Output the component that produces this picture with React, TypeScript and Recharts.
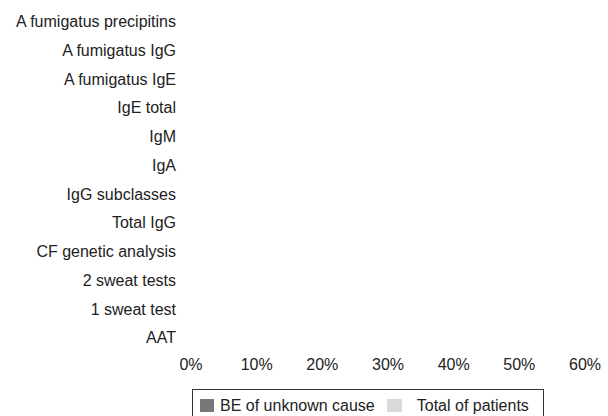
import { Bar, BarChart, Legend, XAxis, YAxis } from "recharts";

const tests = [
  "A fumigatus precipitins",
  "A fumigatus IgG",
  "A fumigatus IgE",
  "IgE total",
  "IgM",
  "IgA",
  "IgG subclasses",
  "Total IgG",
  "CF genetic analysis",
  "2 sweat tests",
  "1 sweat test",
  "AAT",
];

// no bars are visible in the picture, so every share reads as 0
const unknownCause = [0, 0, 0, 0, 0, 0, 0, 0, 0, 0, 0, 0];
const totalPatients = [0, 0, 0, 0, 0, 0, 0, 0, 0, 0, 0, 0];

const xTicks = [0, 0.1, 0.2, 0.3, 0.4, 0.5, 0.6];

const data = tests.map((name, i) => ({
  name,
  unknown: unknownCause[i],
  total: totalPatients[i],
}));

const FONT = "'Liberation Sans', Arial, sans-serif";

function LegendBox() {
  return (
    <div
      style={{
        border: "1px solid #333",
        height: 30,
        boxSizing: "border-box",
        display: "flex",
        alignItems: "center",
        fontFamily: FONT,
        fontSize: 16,
        color: "#222",
        paddingLeft: 7,
        paddingTop: 3,
      }}
    >
      <span style={{ width: 14, height: 13, background: "#78787a", display: "inline-block", marginRight: 6 }} />
      <span>BE of unknown cause</span>
      <span style={{ width: 15, height: 13, background: "#dadadc", display: "inline-block", marginLeft: 12, marginRight: 15 }} />
      <span>Total of patients</span>
    </div>
  );
}

export default function App() {
  return (
    <div style={{ position: "fixed", left: 0, top: 0, width: 608, height: 416, overflow: "hidden", background: "#fff" }}>
      <BarChart
        width={608}
        height={416}
        data={data}
        layout="vertical"
        margin={{ top: 7, right: 23, bottom: 4, left: 0 }}
        barGap={0}
      >
        <XAxis
          type="number"
          domain={[0, 0.6]}
          ticks={xTicks}
          tickFormatter={(v: number) => `${Math.round(v * 100)}%`}
          axisLine={false}
          tickLine={false}
          tickSize={0}
          tickMargin={7}
          tick={{ fill: "#222", fontSize: 16, fontFamily: FONT }}
          height={30}
        />
        <YAxis
          type="category"
          dataKey="name"
          width={191}
          axisLine={false}
          tickLine={false}
          tickSize={0}
          tickMargin={15}
          interval={0}
          tick={{ fill: "#222", fontSize: 16, fontFamily: FONT }}
        />
        <Bar dataKey="unknown" name="BE of unknown cause" fill="#78787a" isAnimationActive={false} />
        <Bar dataKey="total" name="Total of patients" fill="#dadadc" isAnimationActive={false} />
        <Legend
          content={() => <LegendBox />}
          wrapperStyle={{ position: "absolute", left: 192, top: 389, width: 352, bottom: "auto" }}
        />
      </BarChart>
    </div>
  );
}
